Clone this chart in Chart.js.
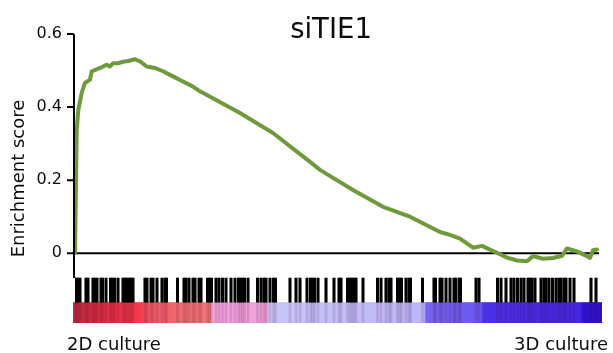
<!DOCTYPE html>
<html>
<head>
<meta charset="utf-8">
<script src="https://cdn.jsdelivr.net/npm/chart.js@4/dist/chart.umd.min.js"></script>
<style>
  html, body { margin: 0; padding: 0; background: #ffffff; }
  #wrap { width: 613px; height: 353px; position: relative; }
</style>
</head>
<body>
<div id="wrap"><canvas id="c" width="613" height="353"></canvas></div>
<script>
// ---- data ----
const titleText = 'siTIE1';
const yAxisTitle = 'Enrichment score';
const leftLabel = '2D culture';
const rightLabel = '3D culture';
const listLength = 10480;              // length of the ranked gene list
const yTicks = [0, 0.2, 0.4, 0.6];

// running enrichment score (rank, ES)
const curveRank = [0, 34, 66, 134, 200, 300, 334, 500, 634, 700, 760, 860, 960, 1060, 1200, 1300, 1434, 1600, 1760, 1960, 2160, 2360, 2500, 3300, 3960, 4700, 4900, 5560, 6160, 6700, 7300, 7500, 7700, 7960, 8140, 8300, 8460, 8640, 8840, 9040, 9160, 9360, 9560, 9740, 9840, 10040, 10240, 10300, 10360, 10440];
const curveES = [0, 0.337, 0.392, 0.439, 0.466, 0.475, 0.498, 0.507, 0.516, 0.511, 0.52, 0.52, 0.524, 0.526, 0.531, 0.525, 0.511, 0.507, 0.498, 0.484, 0.47, 0.456, 0.443, 0.384, 0.329, 0.25, 0.228, 0.173, 0.127, 0.1, 0.058, 0.05, 0.04, 0.015, 0.02, 0.01, 0, -0.012, -0.02, -0.022, -0.008, -0.015, -0.013, -0.007, 0.013, 0.005, -0.008, -0.013, 0.008, 0.01];

// positions of gene-set members in the ranked list (barcode)
const hitRanks = [0, 20, 60, 100, 220, 260, 360, 400, 440, 520, 550, 620, 710, 750, 790, 860, 960, 1000, 1040, 1080, 1120, 1160, 1400, 1440, 1520, 1560, 1640, 1740, 1800, 1830, 2050, 2180, 2220, 2280, 2360, 2400, 2480, 2520, 2650, 2690, 2730, 2820, 2880, 2950, 3020, 3120, 3200, 3270, 3310, 3350, 3390, 3460, 3650, 3720, 3780, 3820, 3900, 3970, 4010, 4300, 4420, 4500, 4640, 4710, 4750, 4790, 4860, 5020, 5180, 5280, 5320, 5450, 5500, 5540, 5580, 5620, 5760, 6050, 6120, 6220, 6280, 6320, 6450, 6490, 6530, 6620, 6680, 6710, 6950, 7180, 7210, 7300, 7340, 7420, 7500, 7580, 7610, 7680, 7710, 8020, 8080, 8450, 8520, 8620, 8720, 8780, 8850, 8920, 8980, 9060, 9100, 9140, 9200, 9320, 9380, 9420, 9480, 9550, 9620, 9680, 9720, 9780, 9820, 9900, 9980, 10320, 10420];

// ranking-metric colour band: [rank, colour]
const bandRanks  = [-40, 500, 1300, 1500, 2500, 2710, 2730, 3840, 3880, 6980, 7020, 8120, 8160, 10100, 10160, 10540];
const bandColors = ['#b82a3c', '#d82e42', '#f43a4c', '#f05a64', '#f07474', '#f07878', '#f2a4dc', '#eea2da', '#c8c6f8', '#bcb6f8', '#7464f2', '#6a58f0', '#4a30e6', '#4428e2', '#2e12cc', '#3010c4'];

// band / barcode extents in score units
const barcodeTop = -0.068, barcodeBottom = -0.134, bandBottom = -0.191;

const FONT = "'DejaVu Sans', 'Liberation Sans', sans-serif";
const TEXT = '#0d0d0d';

const extrasPlugin = {
  id: 'extras',
  beforeDatasetsDraw(chart) {
    const { ctx } = chart;
    const xs = chart.scales.x, ys = chart.scales.y;
    const x0 = xs.getPixelForValue(bandRanks[0]);
    const x1 = xs.getPixelForValue(bandRanks[bandRanks.length - 1]);
    const g = ctx.createLinearGradient(x0, 0, x1, 0);
    bandRanks.forEach((r, i) => {
      const t = (xs.getPixelForValue(r) - x0) / (x1 - x0);
      g.addColorStop(Math.min(1, Math.max(0, t)), bandColors[i]);
    });
    const yT = ys.getPixelForValue(barcodeBottom), yB = ys.getPixelForValue(bandBottom);
    ctx.save();
    ctx.fillStyle = g;
    ctx.fillRect(x0, yT, x1 - x0, yB - yT);
    ctx.restore();
  },
  afterDatasetsDraw(chart) {
    const { ctx, chartArea } = chart;
    const ys = chart.scales.y;
    const ax = chartArea.left - 1;
    ctx.save();
    // y axis line and tick marks
    ctx.strokeStyle = '#000';
    ctx.lineWidth = 2;
    ctx.beginPath();
    ctx.moveTo(ax, ys.getPixelForValue(yTicks[yTicks.length - 1]));
    ctx.lineTo(ax, ys.getPixelForValue(barcodeTop));
    yTicks.forEach(v => {
      const y = ys.getPixelForValue(v);
      ctx.moveTo(ax - 7, y);
      ctx.lineTo(ax, y);
    });
    ctx.stroke();
    // title and end labels
    ctx.fillStyle = TEXT;
    ctx.textBaseline = 'alphabetic';
    ctx.font = "27.5px " + FONT;
    ctx.textAlign = 'center';
    ctx.fillText(titleText, (chartArea.left + chartArea.right) / 2 - 6, 38);
    ctx.font = "18px " + FONT;
    ctx.textAlign = 'left';
    ctx.fillText(leftLabel, chartArea.left - 8, 350);
    ctx.textAlign = 'right';
    ctx.fillText(rightLabel, chartArea.right + 9, 350);
    ctx.restore();
  }
};

new Chart(document.getElementById('c'), {
  data: {
    datasets: [
      {
        type: 'line',
        label: 'ES',
        data: curveRank.map((r, i) => ({ x: r, y: curveES[i] })),
        borderColor: '#6f9a3c',
        borderWidth: 4,
        pointRadius: 0,
        tension: 0,
        borderJoinStyle: 'round',
        borderCapStyle: 'round',
        order: 0
      },
      {
        type: 'line',
        label: 'zero',
        data: [{ x: 0, y: 0 }, { x: listLength, y: 0 }],
        borderColor: '#000',
        borderWidth: 2,
        pointRadius: 0,
        order: 1
      },
      {
        type: 'bar',
        label: 'hits',
        data: hitRanks.map(r => ({ x: r, y: [barcodeBottom, barcodeTop] })),
        backgroundColor: '#000',
        barThickness: 2.4,
        grouped: false,
        order: 2
      },
      {
        type: 'bar',
        label: 'hit stripes',
        data: hitRanks.map(r => ({ x: r, y: [bandBottom, barcodeBottom] })),
        backgroundColor: 'rgba(70,0,50,0.13)',
        barThickness: 2,
        grouped: false,
        order: 3
      }
    ]
  },
  options: {
    responsive: false,
    animation: false,
    events: [],
    layout: { padding: { left: 9, right: 14, top: 34, bottom: 30 } },
    plugins: { legend: { display: false }, title: { display: false }, tooltip: { enabled: false } },
    scales: {
      x: { type: 'linear', min: 0, max: listLength, display: false, offset: false },
      y: {
        type: 'linear',
        min: bandBottom,
        max: 0.6,
        afterBuildTicks: s => { s.ticks = yTicks.map(v => ({ value: v })); },
        afterFit: s => { s.width = 66; },
        ticks: {
          font: { family: FONT, size: 16 },
          color: TEXT,
          padding: 5,
          callback: v => (v === 0 ? '0' : v.toFixed(1))
        },
        grid: { display: false },
        border: { display: false },
        title: { display: true, text: yAxisTitle, font: { family: FONT, size: 18 }, color: TEXT, padding: 0 }
      }
    }
  },
  plugins: [extrasPlugin]
});
</script>
</body>
</html>
